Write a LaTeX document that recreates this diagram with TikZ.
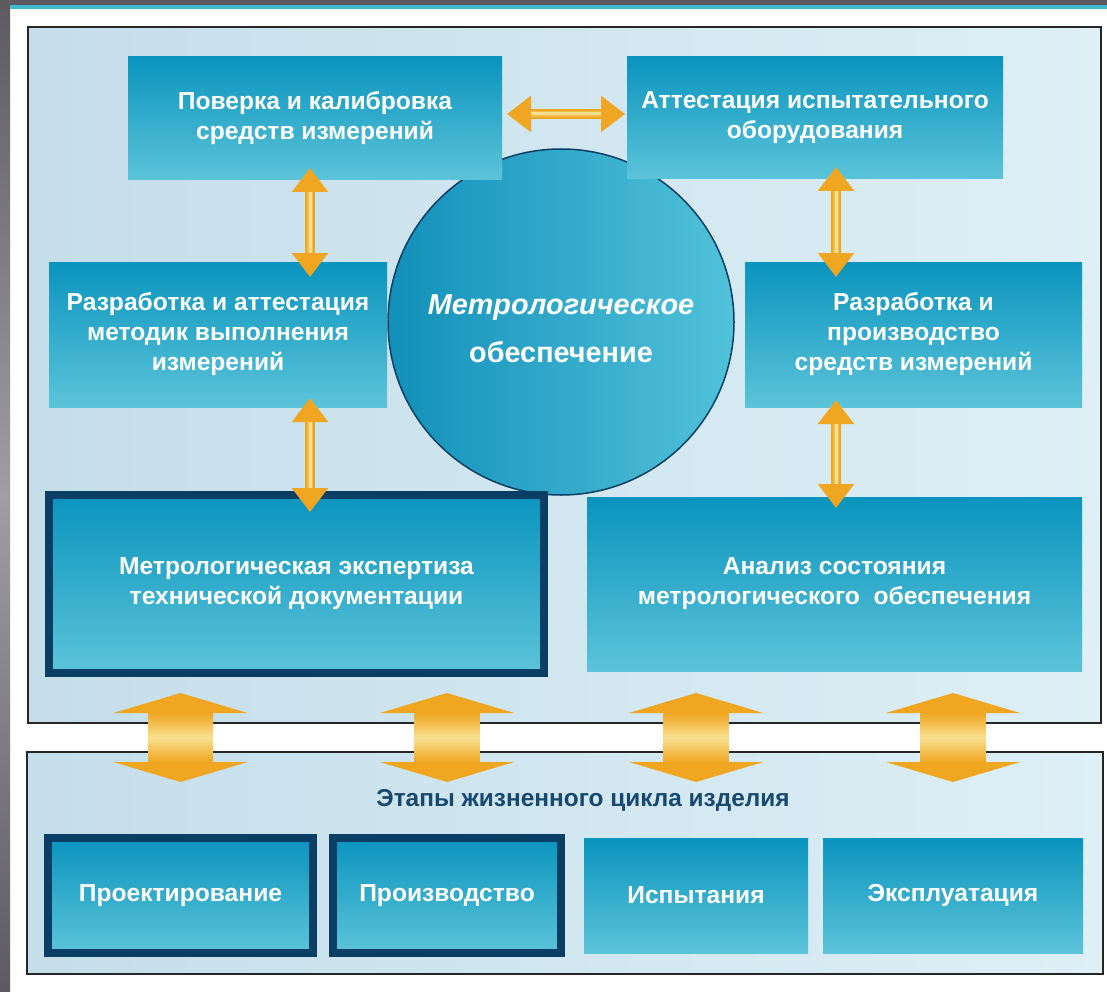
\documentclass[tikz,border=0pt]{standalone}
\usepackage{fontspec}
\setmainfont{Liberation Sans}
\usetikzlibrary{arrows.meta}
\definecolor{boxtop}{RGB}{10,148,190}
\definecolor{boxbot}{RGB}{92,196,217}
\definecolor{navy}{RGB}{11,62,100}
\definecolor{frameL}{RGB}{196,222,234}
\definecolor{frameR}{RGB}{222,239,246}
\definecolor{arrO}{RGB}{240,166,32}
\definecolor{arrM}{RGB}{244,190,70}
\definecolor{arrP}{RGB}{249,224,145}
\definecolor{circL}{RGB}{18,144,186}
\definecolor{circR}{RGB}{82,194,218}
\definecolor{labelc}{RGB}{22,72,112}
\definecolor{greyD}{RGB}{92,90,95}
\definecolor{greyL}{RGB}{160,158,162}
\definecolor{tealline}{RGB}{64,184,206}
\begin{document}
\begin{tikzpicture}[x=1pt,y=-1pt,
  every node/.style={outer sep=0pt, inner sep=0pt},
  frame/.style={draw=black!85, line width=2pt, shade, left color=frameL, right color=frameR},
  box/.style={shade, top color=boxtop, bottom color=boxbot, align=center, text=white,
    font=\bfseries\fontsize{24.6}{30}\selectfont},
  navybox/.style={box, draw=navy, line width=8pt},
  sarrow/.style={line width=10pt, draw=arrO,
    arrows={Triangle[width=35pt,length=24pt]-Triangle[width=35pt,length=24pt]}},
  sarrowmid/.style={line width=6pt, draw=arrM},
  sarrowhl/.style={line width=3pt, draw=arrP},
  barrow/.style={line width=65pt, draw=arrO,
    arrows={Triangle[width=134pt,length=20pt]-Triangle[width=134pt,length=20pt]}},
  bshaft/.style={shade, top color=arrO, bottom color=arrO, middle color=arrP,
    minimum width=65pt, minimum height=49pt}
]
\useasboundingbox (0,0) rectangle (1107,992);
% page background
\fill[white] (0,0) rectangle (1107,992);
\node[shade, top color=greyD, bottom color=greyD, middle color=greyL,
  minimum width=10pt, minimum height=992pt] (leftstrip) at (5,496) {};
\fill[greyD] (0,0) rectangle (1107,5);
\fill[tealline] (10,5) rectangle (1107,9);

% frames
\node[frame, minimum width=1073pt, minimum height=696pt] (upper) at (564.5,375) {};
\node[frame, minimum width=1076pt, minimum height=222pt] (lower) at (565,863) {};

% central circle
\node[circle, shade, left color=circL, right color=circR, draw=navy, line width=1.5pt,
  minimum size=346pt] (core) at (561,322) {};
\node[align=center, text=white, font=\bfseries\fontsize{28.8}{48}\selectfont] (coretext)
  at ([yshift=-7pt]core.center) {\textit{Метрологическое}\\обеспечение};

% boxes
\node[box, minimum width=374pt, minimum height=123pt] (b1) at (315,118.5)
  {Поверка и калибровка\\средств измерений};
\node[box, minimum width=376pt, minimum height=122pt] (b2) at (815,118)
  {Аттестация испытательного\\оборудования};
\node[box, minimum width=338pt, minimum height=145pt] (b3) at (218,334.5)
  {Разработка и аттестация\\методик выполнения\\измерений};
\node[box, minimum width=337pt, minimum height=145pt] (b4) at (913.5,334.5)
  {Разработка и\\производство\\средств измерений};
\node[navybox, minimum width=495pt, minimum height=178pt] (b5) at (296.5,584)
  {Метрологическая экспертиза\\технической документации};
\node[box, minimum width=495pt, minimum height=174pt] (b6) at (834.5,584)
  {Анализ состояния\\метрологического~~обеспечения};

% life cycle
\node[font=\bfseries\fontsize{24.4}{28}\selectfont, text=labelc] (stages) at (583,800)
  {Этапы жизненного цикла изделия};
\node[navybox, minimum width=265pt, minimum height=115pt] (s1) at (180.5,895.5) {Проектирование};
\node[navybox, minimum width=228pt, minimum height=115pt] (s2) at (447,895.5) {Производство};
\node[box, minimum width=224pt, minimum height=115pt] (s3) at (696,895.5) {Испытания};
\node[box, minimum width=260pt, minimum height=115pt] (s4) at (953,895.5) {Эксплуатация};

% small arrows
\coordinate (xL) at (310,0);
\coordinate (xR) at (836,0);
\coordinate (yH) at (0,114);
% b1 <-> b2
\draw[sarrow, shorten <=5pt, shorten >=2pt] (b1.east |- yH) -- (b2.west |- yH);
\draw[sarrowmid, shorten <=29pt, shorten >=26pt] (b1.east |- yH) -- (b2.west |- yH);
\draw[sarrowhl, shorten <=29pt, shorten >=26pt] (b1.east |- yH) -- (b2.west |- yH);
% b1 <-> b3
\draw[sarrow, shorten <=-12pt, shorten >=-15pt] (b1.south -| xL) -- (b3.north -| xL);
\draw[sarrowmid, shorten <=12pt, shorten >=9pt] (b1.south -| xL) -- (b3.north -| xL);
\draw[sarrowhl, shorten <=12pt, shorten >=9pt] (b1.south -| xL) -- (b3.north -| xL);
% b3 <-> b5
\draw[sarrow, shorten <=-9pt, shorten >=-17pt] (b3.south -| xL) -- (b5.north -| xL);
\draw[sarrowmid, shorten <=15pt, shorten >=7pt] (b3.south -| xL) -- (b5.north -| xL);
\draw[sarrowhl, shorten <=15pt, shorten >=7pt] (b3.south -| xL) -- (b5.north -| xL);
% b2 <-> b4
\draw[sarrow, shorten <=-12pt, shorten >=-15pt] (b2.south -| xR) -- (b4.north -| xR);
\draw[sarrowmid, shorten <=12pt, shorten >=9pt] (b2.south -| xR) -- (b4.north -| xR);
\draw[sarrowhl, shorten <=12pt, shorten >=9pt] (b2.south -| xR) -- (b4.north -| xR);
% b4 <-> b6
\draw[sarrow, shorten <=-7pt, shorten >=-11pt] (b4.south -| xR) -- (b6.north -| xR);
\draw[sarrowmid, shorten <=17pt, shorten >=13pt] (b4.south -| xR) -- (b6.north -| xR);
\draw[sarrowhl, shorten <=17pt, shorten >=13pt] (b4.south -| xR) -- (b6.north -| xR);

% big arrows between frames
\foreach \s in {s1,s2,s3,s4}{
  \draw[barrow, shorten <=-30pt, shorten >=-30pt] (upper.south -| \s) -- (lower.north -| \s);
  \node[bshaft] (shaft-\s) at ([yshift=-14.5pt]upper.south -| \s) {};
}
\end{tikzpicture}
\end{document}
